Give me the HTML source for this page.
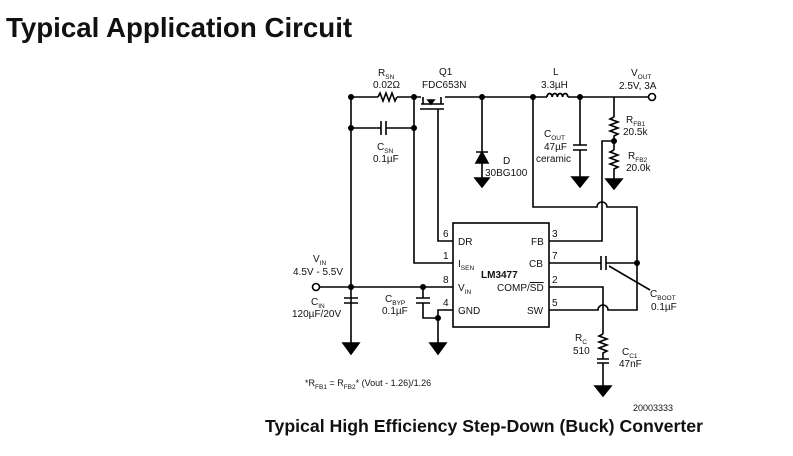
<!DOCTYPE html>
<html><head><meta charset="utf-8"><style>
body{margin:0;background:#fff;width:793px;height:456px;overflow:hidden}
svg{display:block}
text{font-family:"Liberation Sans",sans-serif;fill:#111}
.s{font-size:10px}
.sub{font-size:6.5px}
</style></head><body>
<svg width="793" height="456" viewBox="0 0 793 456" stroke="#000" stroke-width="1.6" fill="none">
<text x="6" y="37" style="font-size:27.7px;font-weight:bold" stroke="none">Typical Application Circuit</text>
<!-- top rail -->
<path d="M351 97H378 M397 97H414 H421 M445 97H547 M568 97H648"/>
<path d="M378 97l2-4 3 8 3-8 3 8 3-8 3 8 2-4"/>
<!-- mosfet -->
<path d="M423 97V104 M441 97V104 M421 104H444 M420 109H444 M438 109V241H453"/>
<path d="M428 100l3 4 3-4z" fill="#000"/>
<!-- CSN -->
<path d="M351 97V345 M414 97V263H453 M351 128H381 M386 128H414 M381 121V135 M386 121V135"/>
<!-- diode -->
<path d="M482 97V178 M476 152H488"/>
<path d="M476 163h12l-6-11z" fill="#000"/>
<path d="M475 178h14l-7 9z" fill="#000"/>
<!-- inductor -->
<path d="M547 97a2.6 3.5 0 0 1 5.2 0a2.6 3.5 0 0 1 5.2 0a2.6 3.5 0 0 1 5.2 0a2.6 3.5 0 0 1 5.2 0" stroke-width="1.8"/>
<!-- Cout -->
<path d="M580 97V145 M573 145H587 M573 150H587 M580 150V177"/>
<path d="M572 177h16l-8 10z" fill="#000"/>
<!-- RFB -->
<path d="M614 97V117 M614 117l-4 2 8 3-8 3 8 3-8 3 8 3-4 2V150 M614 150l-4 2 8 3-8 3 8 3-8 3 8 3-4 2V179 M614 141H602V241H549"/>
<path d="M606 179h16l-8 10z" fill="#000"/>
<circle cx="652" cy="97" r="3.5" fill="#fff"/>
<!-- 533 line with hop -->
<path d="M533 97V207H597a5 5 0 0 1 10 0H637V310H608a5 5 0 0 0-10 0H549"/>
<!-- CB -->
<path d="M549 263H601 M606 263H637 M601 256V270 M606 256V270 M609 266L650 290"/>
<!-- COMP -->
<path d="M549 287H603V334 M603 334l-4 2 8 3-8 3 8 3-8 3 8 3-4 2V359 M597 359H609 M597 363H609 M603 363V386"/>
<path d="M595 386h16l-8 10z" fill="#000"/>
<!-- VIN -->
<path d="M320 287H453 M344 298H358 M344 303H358 M423 287V298 M416 298H430 M416 303H430 M423 303V318H438 M453 310H438V343"/>
<path d="M343 343h16l-8 11z M430 343h16l-8 11z" fill="#000"/>
<rect x="453" y="223" width="96" height="104"/>
<circle cx="316" cy="287" r="3.5" fill="#fff"/>
<g fill="#000" stroke="none">
<circle cx="351" cy="97" r="3"/><circle cx="414" cy="97" r="3"/><circle cx="351" cy="128" r="3"/><circle cx="414" cy="128" r="3"/>
<circle cx="482" cy="97" r="3"/><circle cx="533" cy="97" r="3"/><circle cx="580" cy="97" r="3"/><circle cx="614" cy="141" r="3"/>
<circle cx="637" cy="263" r="3"/><circle cx="351" cy="287" r="3"/><circle cx="423" cy="287" r="3"/><circle cx="438" cy="318" r="3"/>
</g>
<g stroke="none" class="s">
<text x="378" y="76">R<tspan class="sub" dy="3">SN</tspan></text>
<text x="373" y="88">0.02Ω</text>
<text x="439" y="75">Q1</text>
<text x="422" y="88">FDC653N</text>
<text x="377" y="150">C<tspan class="sub" dy="3">SN</tspan></text>
<text x="373" y="162">0.1µF</text>
<text x="503" y="164">D</text>
<text x="485" y="176">30BG100</text>
<text x="553" y="75">L</text>
<text x="541" y="88">3.3µH</text>
<text x="631" y="76">V<tspan class="sub" dy="3">OUT</tspan></text>
<text x="619" y="89">2.5V, 3A</text>
<text x="544" y="137">C<tspan class="sub" dy="3">OUT</tspan></text>
<text x="544" y="150">47µF</text>
<text x="536" y="162">ceramic</text>
<text x="626" y="123">R<tspan class="sub" dy="3">FB1</tspan></text>
<text x="623" y="135">20.5k</text>
<text x="628" y="159">R<tspan class="sub" dy="3">FB2</tspan></text>
<text x="626" y="171">20.0k</text>
<text x="313" y="262">V<tspan class="sub" dy="3">IN</tspan></text>
<text x="293" y="275">4.5V - 5.5V</text>
<text x="311" y="305">C<tspan class="sub" dy="3">IN</tspan></text>
<text x="292" y="317">120µF/20V</text>
<text x="385" y="302">C<tspan class="sub" dy="3">BYP</tspan></text>
<text x="382" y="314">0.1µF</text>
<text x="443" y="237">6</text><text x="443" y="259">1</text><text x="443" y="283">8</text><text x="443" y="306">4</text>
<text x="458" y="245">DR</text>
<text x="458" y="267">I<tspan class="sub" dy="3">SEN</tspan></text>
<text x="458" y="291">V<tspan class="sub" dy="3">IN</tspan></text>
<text x="458" y="314">GND</text>
<text x="481" y="278" style="font-weight:bold">LM3477</text>
<text x="531" y="245">FB</text><text x="529" y="267">CB</text>
<text x="497" y="291">COMP/<tspan text-decoration="overline">SD</tspan></text>
<text x="527" y="314">SW</text>
<text x="552" y="237">3</text><text x="552" y="259">7</text><text x="552" y="283">2</text><text x="552" y="306">5</text>
<text x="650" y="297">C<tspan class="sub" dy="3">BOOT</tspan></text>
<text x="651" y="310">0.1µF</text>
<text x="575" y="341">R<tspan class="sub" dy="3">C</tspan></text>
<text x="573" y="354">510</text>
<text x="622" y="355">C<tspan class="sub" dy="3">C1</tspan></text>
<text x="619" y="367">47nF</text>
<text x="305" y="386" style="font-size:9px">*R<tspan class="sub" dy="3">FB1</tspan><tspan dy="-3"> = R</tspan><tspan class="sub" dy="3">FB2</tspan><tspan dy="-3">* (Vout - 1.26)/1.26</tspan></text>
<text x="633" y="411" style="font-size:9px">20003333</text>
<text x="265" y="432" style="font-size:17.7px;font-weight:bold">Typical High Efficiency Step-Down (Buck) Converter</text>
</g>
</svg>
</body></html>
